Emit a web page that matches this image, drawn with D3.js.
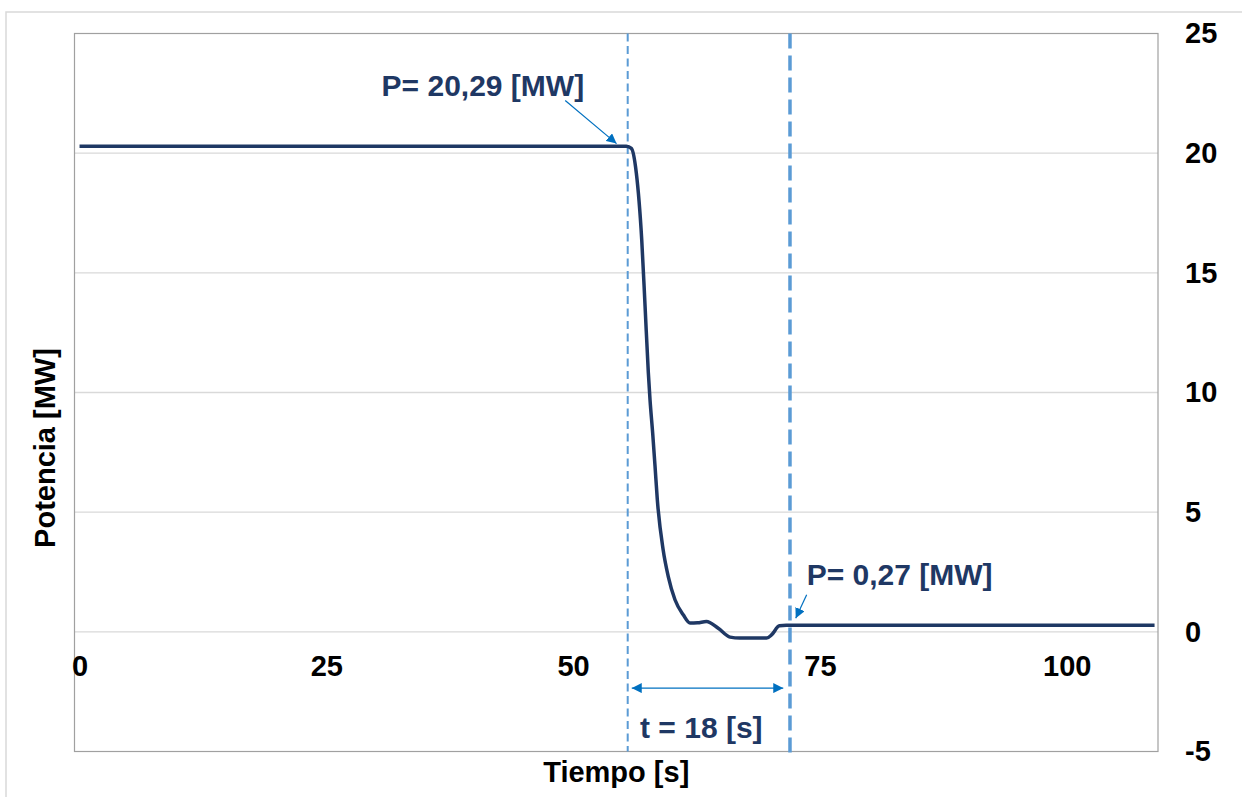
<!DOCTYPE html>
<html lang="es">
    <head>
        <meta charset="utf-8"/>
        <script src="https://d3js.org/d3.v7.min.js"></script>
        <style>
            body { margin: 0; background: #fff; }
            text { font-family: "Liberation Sans", Arial, sans-serif; font-weight: bold; }
        </style>
    </head>
    <body>
        <div id="chart"></div>
    </body>
    <script>
        // potencia vs tiempo
        var tiempo = [0, 55.4, 55.9, 56.4, 56.95, 57.29, 57.62, 57.79, 58.06, 58.3, 58.53, 59.12, 59.64, 60.32,
                      61.16, 61.84, 62.6, 63.5, 64.7, 65.9, 66.9, 69.6, 70.1, 70.9, 71.6, 108.9];
        var potencia = [20.29, 20.29, 20.2, 19.18, 16.39, 13.6, 10.83, 9.7, 8.3, 6.91, 5.52, 3.43, 2.31, 1.34,
                        0.71, 0.37, 0.38, 0.43, 0.15, -0.22, -0.26, -0.26, -0.13, 0.25, 0.27, 0.27];
        var xTicks = [0, 25, 50, 75, 100];
        var yTicks = [-5, 0, 5, 10, 15, 20, 25];
        var gridValues = [0, 5, 10, 15, 20];
        var marcas = [55.53, 71.97];   // dashed vertical lines
        var pInicial = "P= 20,29 [MW]";
        var pFinal = "P= 0,27 [MW]";
        var duracion = "t = 18 [s]";

        var W = 1242, H = 797;
        var plot = {left: 74.5, right: 1158, top: 33.5, bottom: 751.5};

        var svg = d3.select("#chart")
            .append("svg")
                .attr("width", W)
                .attr("height", H)

        var defs = svg.append("defs")
        defs.append("marker")
            .attr("id", "head")
            .attr("viewBox", "0 0 10 10")
            .attr("refX", 10).attr("refY", 5)
            .attr("markerWidth", 10).attr("markerHeight", 10)
            .attr("markerUnits", "userSpaceOnUse")
            .attr("orient", "auto-start-reverse")
            .append("path")
                .attr("d", "M0,0 L10,5 L0,10 Z")
                .attr("fill", "#0070c0")

        // outer chart frame (cropped in the picture)
        svg.append("rect")
            .attr("x", 6).attr("y", 12)
            .attr("width", 1400).attr("height", 1000)
            .attr("fill", "none")
            .attr("stroke", "#d9d9d9")
            .attr("stroke-width", 1.5)

        var x = d3.scaleLinear()
            .domain([-0.51, 109.25])
            .range([plot.left, plot.right])

        var y = d3.scaleLinear()
            .domain([-5, 25])
            .range([plot.bottom, plot.top])

        // gridlines
        svg.append("g")
            .selectAll("line")
            .data(gridValues)
            .enter()
            .append("line")
                .attr("x1", plot.left).attr("x2", plot.right)
                .attr("y1", function (d) { return y(d); })
                .attr("y2", function (d) { return y(d); })
                .attr("stroke", "#d9d9d9")
                .attr("stroke-width", 1.3)

        // plot border
        svg.append("rect")
            .attr("x", plot.left).attr("y", plot.top)
            .attr("width", plot.right - plot.left).attr("height", plot.bottom - plot.top)
            .attr("fill", "none")
            .attr("stroke", "#a0a0a0")
            .attr("stroke-width", 1.2)

        var yAxis = svg.append("g")
            .attr("transform", "translate(" + plot.right + ",0)")
            .call(d3.axisRight(y).tickValues(yTicks).tickSize(0).tickPadding(27)
                .tickFormat(function (d) { return String(d); }))
        yAxis.select(".domain").remove()
        yAxis.selectAll("text")
            .attr("font-size", 29)
            .attr("font-family", "Liberation Sans, Arial, sans-serif")
            .attr("fill", "#000")

        var xAxis = svg.append("g")
            .attr("transform", "translate(0," + y(0) + ")")
            .call(d3.axisBottom(x).tickValues(xTicks).tickSize(0).tickPadding(24)
                .tickFormat(function (d) { return String(d); }))
        xAxis.select(".domain").remove()
        xAxis.selectAll("text")
            .attr("font-size", 29)
            .attr("font-family", "Liberation Sans, Arial, sans-serif")
            .attr("fill", "#000")

        // dashed markers
        svg.append("line")
            .attr("x1", x(marcas[0])).attr("x2", x(marcas[0]))
            .attr("y1", y(25)).attr("y2", y(-5))
            .attr("stroke", "#5b9bd5")
            .attr("stroke-width", 2)
            .attr("stroke-dasharray", "8,4.5")
        svg.append("line")
            .attr("x1", x(marcas[1])).attr("x2", x(marcas[1]))
            .attr("y1", y(25)).attr("y2", y(-5) + 3)
            .attr("stroke", "#5b9bd5")
            .attr("stroke-width", 3.5)
            .attr("stroke-dasharray", "15,7")

        // curve
        var serie = tiempo.map(function (t, i) { return [t, potencia[i]]; })
        svg.append("path")
            .datum(serie)
            .attr("fill", "none")
            .attr("stroke", "#1f3864")
            .attr("stroke-width", 3.5)
            .attr("stroke-linejoin", "round")
            .attr("d", d3.line()
                .x(function (d) { return x(d[0]); })
                .y(function (d) { return y(d[1]); })
                .curve(d3.curveMonotoneX))

        // annotations
        var navy = "#1f3864";
        svg.append("text")
            .attr("x", x(30.6)).attr("y", y(22.37))
            .attr("font-size", 30).attr("fill", navy)
            .text(pInicial)
        svg.append("line")
            .attr("x1", x(49.2)).attr("y1", y(22.2))
            .attr("x2", x(54.4)).attr("y2", y(20.4))
            .attr("stroke", "#0070c0").attr("stroke-width", 1.2)
            .attr("marker-end", "url(#head)")

        svg.append("text")
            .attr("x", x(73.66)).attr("y", y(1.96))
            .attr("font-size", 30).attr("fill", navy)
            .text(pFinal)
        svg.append("line")
            .attr("x1", x(73.66)).attr("y1", y(1.55))
            .attr("x2", x(72.55)).attr("y2", y(0.57))
            .attr("stroke", "#0070c0").attr("stroke-width", 1.2)
            .attr("marker-end", "url(#head)")

        svg.append("line")
            .attr("x1", x(55.94)).attr("y1", y(-2.35))
            .attr("x2", x(71.29)).attr("y2", y(-2.35))
            .attr("stroke", "#0070c0").attr("stroke-width", 1.3)
            .attr("marker-start", "url(#head)")
            .attr("marker-end", "url(#head)")
        svg.append("text")
            .attr("x", x(56.78)).attr("y", y(-4.44))
            .attr("font-size", 30).attr("fill", navy)
            .text(duracion)

        // axis titles
        svg.append("text")
            .attr("x", (plot.left + plot.right) / 2).attr("y", 782)
            .attr("text-anchor", "middle")
            .attr("font-size", 29).attr("fill", "#000")
            .text("Tiempo [s]")
        svg.append("text")
            .attr("transform", "translate(55," + 448 + ") rotate(-90)")
            .attr("text-anchor", "middle")
            .attr("font-size", 29).attr("fill", "#000")
            .text("Potencia [MW]")
    </script>
</html>
